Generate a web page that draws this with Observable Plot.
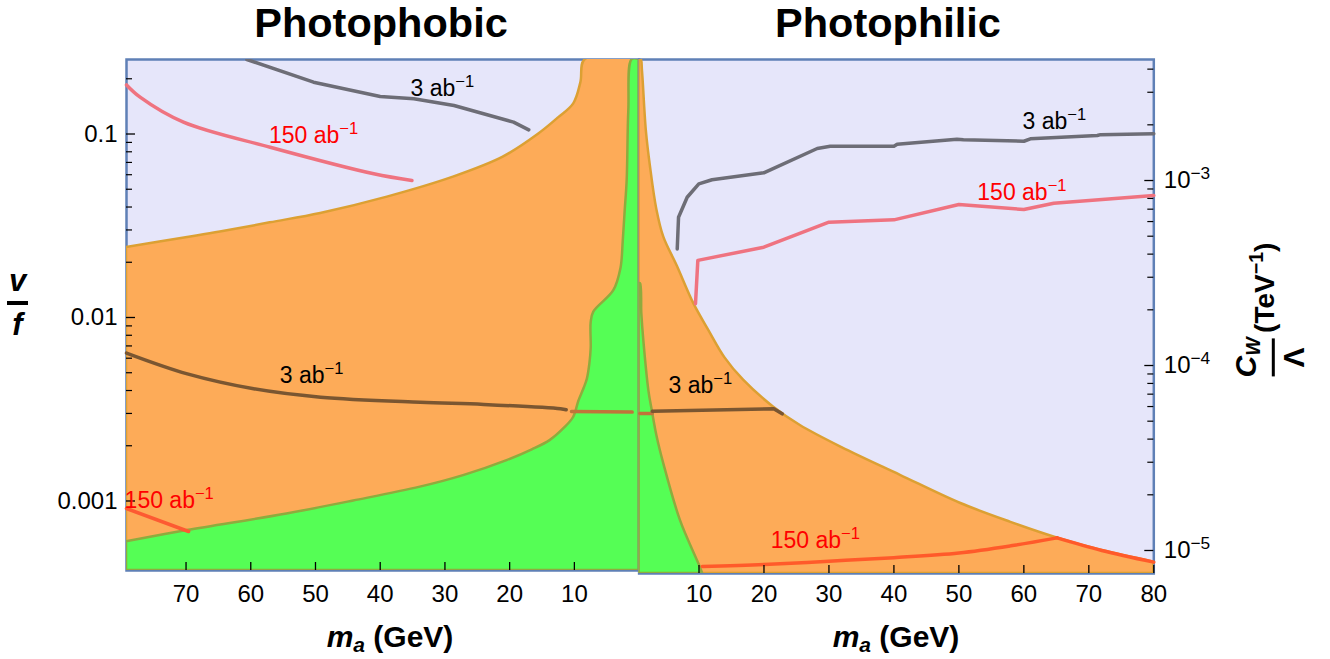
<!DOCTYPE html>
<html><head><meta charset="utf-8">
<script src="https://cdn.jsdelivr.net/npm/d3@7"></script>
<script src="https://cdn.jsdelivr.net/npm/@observablehq/plot@0.6"></script>
<style>
body{margin:0;background:#fff;font-family:"Liberation Sans",Arial,sans-serif;}
#wrap{position:relative;width:1330px;height:659px;overflow:hidden;background:#fff;}
#wrap svg{position:absolute;top:0;}
.t{position:absolute;font-weight:bold;color:#000;white-space:nowrap;}
.title{font-size:41.5px;line-height:40px;text-align:center;width:400px;}
.xl{font-size:30px;line-height:30px;text-align:center;width:300px;}
.frac{display:inline-flex;flex-direction:column;align-items:center;vertical-align:middle;}
.bar{display:block;background:#000;}
</style></head><body><div id="wrap"></div>
<script>
// ---------- data ----------
// Photophobic panel: m_a (GeV) vs v/f
const phobUpperEdge = [[79.2,0.0241],[70,0.0272],[64.7,0.0292],[57,0.0328],[49.2,0.0369],[38.9,0.0453],[28.7,0.0582],[21.0,0.0748],[15.5,0.100],[12.5,0.122],[10.1,0.146],[9.0,0.19],[8.3,0.2547],[0,0.2547]];
const phobGreenEdge = [[79.2,6.0e-4],[69.8,6.9e-4],[54.4,8.5e-4],[44.1,1.0e-3],[33.8,1.19e-3],[27,1.38e-3],[20.4,1.66e-3],[16.5,1.9e-3],[13.7,2.14e-3],[11.5,2.5e-3],[10.1,2.86e-3],[9.3,3.5e-3],[8.5,4.1e-3],[8.0,4.6e-3],[7.6,5.6e-3],[7.4,6.8e-3],[7.4,9.4e-3],[7.0,1.07e-2],[3.91,1.40e-2],[2.8,1.85e-2],[2.45,2.6e-2],[2.15,3.8e-2],[1.84,5.6e-2],[1.59,0.134],[1.07,0.2547],[0,0.2547]];
const phob3abUpper = [[60.6,0.2547],[50.3,0.1916],[40.0,0.160],[34.8,0.1556],[28.6,0.143],[19.4,0.116],[17.05,0.1054]];
const phob150Upper = [[79.2,0.185],[77.1,0.1587],[70.4,0.116],[57.0,0.0847],[41.0,0.0607],[35.1,0.0558]];
const phob3abLower = [[79.2,6.4e-3],[69.8,4.93e-3],[59.55,4.09e-3],[49.2,3.68e-3],[33.8,3.45e-3],[24.0,3.36e-3],[12.15,3.18e-3],[11.27,3.14e-3]];
const phob3abLowerGreen = [[10.45,3.07e-3],[1.07,3.05e-3]];
const phob150Lower = [[79.2,9.1e-4],[69.6,6.82e-4]];
const phobLabels = [
  {text:"3 ab^−1", m:30.4, v:0.177, c:"#000"},
  {text:"150 ab^−1", m:50.3, v:0.098, c:"#f00"},
  {text:"3 ab^−1", m:50.6, v:4.83e-3, c:"#000"},
  {text:"150 ab^−1", m:72.6, v:1.0e-3, c:"#f00"}
];
const phobXTicks = [70,60,50,40,30,20,10];
const phobYMajor = [0.1,0.01,0.001];
const phobYLabels = ["0.1","0.01","0.001"];
const phobYMinor = [0.2,0.09,0.08,0.07,0.06,0.05,0.04,0.03,0.02,0.009,0.008,0.007,0.006,0.005,0.004,0.003,0.002];

// Photophilic panel: m_a (GeV) vs C_W/Λ (TeV^-1)
const philUpperEdge = [[0.78,4.51e-3],[1.1,4.51e-3],[1.3,3.9e-3],[1.9,1.85e-3],[2.54,1.18e-3],[3.5,7.0e-4],[4.58,4.94e-4],[6.65,3.45e-4],[9.2,2.16e-4],[11.5,1.55e-4],[14,1.1e-4],[16.9,8.3e-5],[21.5,5.95e-5],[25.6,4.74e-5],[32,3.6e-5],[41,2.55e-5],[50.2,1.8e-5],[58,1.42e-5],[65.1,1.17e-5],[72,1.0e-5],[80,8.65e-6]];
const philGreenEdge = [[0.78,2.77e-4],[1.0,2.77e-4],[1.2,1.9e-4],[1.5,1.37e-4],[2.28,7.32e-5],[2.8,5.71e-5],[3.57,4.09e-5],[4.58,2.94e-5],[7.15,1.45e-5],[10.2,8.12e-6],[10.55,7.51e-6]];
const phil3abUpper = [[6.65,4.27e-4],[6.85,6.33e-4],[8.18,8.12e-4],[9.97,9.59e-4],[12.0,1.009e-3],[19.97,1.10e-3],[28.2,1.49e-3],[30.2,1.53e-3],[40.0,1.53e-3],[40.5,1.57e-3],[49.7,1.67e-3],[50.7,1.66e-3],[60.0,1.63e-3],[61.0,1.68e-3],[71.3,1.75e-3],[71.8,1.77e-3],[80,1.79e-3]];
const phil150Upper = [[9.46,2.16e-4],[9.82,3.70e-4],[19.97,4.36e-4],[24.6,5.04e-4],[30.0,5.95e-4],[40.0,6.13e-4],[50.0,7.42e-4],[60.0,6.97e-4],[64.6,7.54e-4],[80,8.30e-4]];
const phil3abLowerGreen = [[0.9,5.5e-5],[2.8,5.5e-5]];
const phil3abLower = [[2.8,5.66e-5],[21.5,5.83e-5],[22.8,5.48e-5]];
const phil150LowerRise = [[10.5,8.2e-6],[20,8.4e-6],[30,8.75e-6],[40,9.15e-6],[50,9.7e-6],[58,1.06e-5],[65.1,1.17e-5]];
const phil150LowerFall = [[65.1,1.17e-5],[72,1.0e-5],[80,8.65e-6]];
const philLabels = [
  {text:"3 ab^−1", m:64.7, c2:2.08e-3, c:"#000"},
  {text:"150 ab^−1", m:59.7, c2:8.61e-4, c:"#f00"},
  {text:"3 ab^−1", m:10.2, c2:7.8e-5, c:"#000"},
  {text:"150 ab^−1", m:27.9, c2:1.13e-5, c:"#f00"}
];
const philXTicks = [10,20,30,40,50,60,70,80];
const philYMajor = [1e-3,1e-4,1e-5];
const philYLabels = ["10^−3","10^−4","10^−5"];
const philYMinor = [4e-3,3e-3,2e-3,9e-4,8e-4,7e-4,6e-4,5e-4,4e-4,3e-4,2e-4,9e-5,8e-5,7e-5,6e-5,5e-5,4e-5,3e-5,2e-5];

// ---------- styles ----------
const LAV="#e6e6fa", LAVS="#5f80b6", OR="#fdab58", ORS="#dca033", GR="#55fe55", GRS="#8fab3e";
const FONT="Liberation Sans, Arial, sans-serif";
const mx = d=>d[0], my = d=>d[1];
const SM = "catmull-rom";

function supify(svg){
  d3.select(svg).selectAll("text").each(function(){
    const t=this.textContent; const i=t.indexOf("^");
    if(i<0) return;
    const s=d3.select(this);
    s.text(t.slice(0,i));
    s.append("tspan").attr("dy","-0.55em").attr("font-size","72%").text(t.slice(i+1));
  });
}

const wrap=document.getElementById("wrap");

// Left panel
const L={w:700,ml:126,mr:61.4,mt:59,mb:89};
const Lfw=L.w-L.ml-L.mr, Lfh=659-L.mt-L.mb;
const Ly=[4.18e-4,0.2547];
const left=Plot.plot({
  width:L.w,height:659,marginLeft:L.ml,marginRight:L.mr,marginTop:L.mt,marginBottom:L.mb,
  style:{background:"transparent",overflow:"visible",fontFamily:FONT},
  x:{domain:[79.2,0],axis:null},
  y:{type:"log",domain:Ly,axis:null},
  marks:[
    Plot.frame({fill:LAV,stroke:LAVS,strokeWidth:2.5}),
    Plot.areaY(phobUpperEdge,{x:mx,y1:Ly[0],y2:my,fill:OR,stroke:ORS,strokeWidth:2.5,curve:SM,clip:true}),
    Plot.areaY(phobGreenEdge,{x:mx,y1:Ly[0],y2:my,fill:GR,stroke:GRS,strokeWidth:2.5,curve:SM,clip:true}),
    Plot.line(phob3abUpper,{x:mx,y:my,stroke:"#6d6d76",strokeWidth:3.5,clip:true}),
    Plot.line(phob150Upper,{x:mx,y:my,stroke:"#ef7380",strokeWidth:3.5,curve:SM}),
    Plot.line(phob3abLower,{x:mx,y:my,stroke:"#7a5631",strokeWidth:3.5,curve:SM}),
    Plot.line(phob3abLowerGreen,{x:mx,y:my,stroke:"#c0743a",strokeWidth:3.5}),
    Plot.line(phob150Lower,{x:mx,y:my,stroke:"#fd5a32",strokeWidth:3.5}),
    Plot.tickY(phobYMajor,{y:d=>d,insetRight:Lfw-9,stroke:"#000",strokeWidth:1.3}),
    Plot.tickY(phobYMinor,{y:d=>d,insetRight:Lfw-6,stroke:"#000",strokeWidth:1.2}),
    Plot.tickX(phobXTicks,{x:d=>d,insetTop:Lfh-8,stroke:"#000",strokeWidth:1.3}),
    Plot.text(phobYMajor,{y:d=>d,text:(d,i)=>phobYLabels[i],frameAnchor:"left",dx:-9,textAnchor:"end",fontSize:24,fill:"#000"}),
    Plot.text(phobXTicks,{x:d=>d,text:d=>String(d),frameAnchor:"bottom",dy:31,fontSize:24,fill:"#000"}),
    Plot.text(phobLabels,{x:"m",y:"v",text:"text",fill:"c",fontSize:23})
  ]
});
left.style.left="0px";
wrap.appendChild(left); supify(left);

// Right panel
const R={x0:560,w:770,ml:78.6,mr:176.7,mt:59,mb:86};
const Rfw=R.w-R.ml-R.mr, Rfh=659-R.mt-R.mb;
const Ry=[7.51e-6,4.51e-3];
const right=Plot.plot({
  width:R.w,height:659,marginLeft:R.ml,marginRight:R.mr,marginTop:R.mt,marginBottom:R.mb,
  style:{background:"transparent",overflow:"visible",fontFamily:FONT},
  x:{domain:[0.78,80],axis:null},
  y:{type:"log",domain:Ry,axis:null},
  marks:[
    Plot.frame({fill:LAV,stroke:LAVS,strokeWidth:2.5}),
    Plot.areaY(philUpperEdge,{x:mx,y1:Ry[0],y2:my,fill:OR,stroke:ORS,strokeWidth:2.5,curve:SM,clip:true}),
    Plot.areaY(philGreenEdge,{x:mx,y1:Ry[0],y2:my,fill:GR,stroke:GRS,strokeWidth:2.5,curve:SM,clip:true}),
    Plot.line(phil3abUpper,{x:mx,y:my,stroke:"#6d6d76",strokeWidth:3.5}),
    Plot.line(phil150Upper,{x:mx,y:my,stroke:"#ef7380",strokeWidth:3.5}),
    Plot.line(phil3abLowerGreen,{x:mx,y:my,stroke:"#c0743a",strokeWidth:3.5}),
    Plot.line(phil3abLower,{x:mx,y:my,stroke:"#7a5631",strokeWidth:3.5}),
    Plot.line(phil150LowerRise,{x:mx,y:my,stroke:"#ff5a2a",strokeWidth:3.5,curve:SM}),
    Plot.line(phil150LowerFall,{x:mx,y:my,stroke:"#ff5a2a",strokeWidth:3.5,curve:SM}),
    Plot.tickY(philYMajor,{y:d=>d,insetLeft:Rfw-9,stroke:"#000",strokeWidth:1.3}),
    Plot.tickY(philYMinor,{y:d=>d,insetLeft:Rfw-6,stroke:"#000",strokeWidth:1.2}),
    Plot.tickX(philXTicks,{x:d=>d,insetTop:Rfh-8,stroke:"#000",strokeWidth:1.3}),
    Plot.text(philYMajor,{y:d=>d,text:(d,i)=>philYLabels[i],frameAnchor:"right",dx:10,textAnchor:"start",fontSize:24,fill:"#000"}),
    Plot.text(philXTicks,{x:d=>d,text:d=>String(d),frameAnchor:"bottom",dy:28,fontSize:24,fill:"#000"}),
    Plot.text(philLabels,{x:"m",y:"c2",text:"text",fill:"c",fontSize:23})
  ]
});
right.style.left=R.x0+"px";
wrap.appendChild(right); supify(right);

// HTML text: titles and axis titles
function addDiv(cls,html,css){const d=document.createElement("div");d.className="t "+cls;d.innerHTML=html;Object.assign(d.style,css);wrap.appendChild(d);return d;}
addDiv("title","Photophobic",{left:(381-200)+"px",top:"3px"});
addDiv("title","Photophilic",{left:(888-200)+"px",top:"3px"});
const xlab='<i>m<sub style="font-size:0.7em;vertical-align:-0.25em;">a</sub></i> (GeV)';
addDiv("xl",xlab,{left:(390-150)+"px",top:"622px"});
addDiv("xl",xlab,{left:(896-150)+"px",top:"622px"});
addDiv("",'<span class="frac" style="font-style:italic;font-size:31px;line-height:30px;"><span>v</span><span class="bar" style="width:21px;height:3.5px;margin:5px 0 5px 0;"></span><span>f</span></span>',{left:"7px",top:"266px"});
addDiv("",'<span class="frac" style="font-size:30px;line-height:30px;"><span><i>C</i><sub style="font-size:0.65em;vertical-align:-0.2em;font-style:italic;">W</sub></span><span class="bar" style="width:38px;height:3.5px;margin:4px 0 4px 0;"></span><span>Λ</span></span> <span style="font-size:28px;">(TeV<sup style="font-size:0.7em;">−1</sup>)</span>',{left:"1270px",top:"310px",transform:"translate(-50%,-50%) rotate(-90deg)"});
</script></body></html>
